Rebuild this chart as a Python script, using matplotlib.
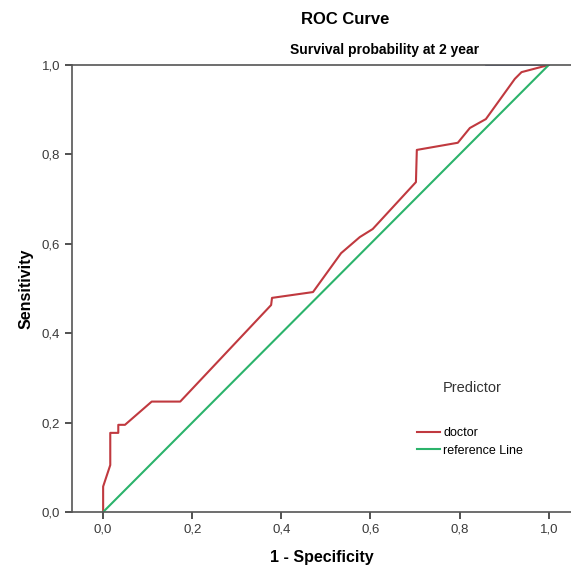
import matplotlib
matplotlib.use("Agg")
import matplotlib.pyplot as plt
from matplotlib.ticker import FuncFormatter

plt.rcParams['font.family'] = ['Liberation Sans', 'DejaVu Sans']

# ROC curve points
fpr = [0.0, 0.0, 0.016, 0.016, 0.034, 0.034, 0.049, 0.109, 0.173, 0.377, 0.379,
       0.471, 0.534, 0.576, 0.605, 0.702, 0.704, 0.796, 0.823, 0.859, 0.924, 0.939, 1.0]
tpr = [0.0, 0.057, 0.105, 0.177, 0.177, 0.195, 0.195, 0.247, 0.247, 0.463, 0.479,
       0.492, 0.579, 0.615, 0.633, 0.738, 0.810, 0.826, 0.859, 0.879, 0.969, 0.984, 1.0]
ref = [0.0, 1.0]
ticks = [0.0, 0.2, 0.4, 0.6, 0.8, 1.0]

fig = plt.figure(figsize=(5.71, 5.68), dpi=100)
ax = fig.add_axes([0.126, 0.0986, 0.874, 0.787])

ax.plot([0.86, 1.0], [1.0, 1.0], color='#4a5a9a', linewidth=1.2)
ax.plot(fpr, tpr, color='#c0393f', linewidth=1.5, label='doctor')
ax.plot(ref, ref, color='#2bb36b', linewidth=1.5, label='reference Line')

ax.set_xlim(-0.07, 1.05)
ax.set_ylim(0, 1)
ax.set_xticks(ticks)
ax.set_yticks(ticks)
fmt = FuncFormatter(lambda v, p: f"{v:.1f}".replace('.', ','))
ax.xaxis.set_major_formatter(fmt)
ax.yaxis.set_major_formatter(fmt)
ax.tick_params(direction='out', length=5, width=1.2, color='#333333',
               labelsize=9.5, labelcolor='#3a3a3a')
ax.spines['right'].set_visible(False)
for s in ['left', 'bottom', 'top']:
    ax.spines[s].set_color('#555555')
    ax.spines[s].set_linewidth(1.2)

ax.set_xlabel('1 - Specificity', fontsize=11.5, fontweight='bold', labelpad=10)
ax.set_ylabel('Sensitivity', fontsize=11.5, fontweight='bold', labelpad=6)

fig.text(0.604, 0.965, 'ROC Curve', ha='center', va='center', fontsize=12, fontweight='bold')
fig.text(0.674, 0.912, 'Survival probability at 2 year', ha='center', va='center',
         fontsize=10, fontweight='bold')

fig.text(0.827, 0.317, 'Predictor', ha='center', va='center', fontsize=10.5, color='#333333')
ax.legend(loc='upper left', bbox_to_anchor=(0.691, 0.19), frameon=False,
          fontsize=9, handlelength=1.85, handletextpad=0.25, labelspacing=0.45,
          borderpad=0, borderaxespad=0)

fig.savefig('out.png', dpi=100)
